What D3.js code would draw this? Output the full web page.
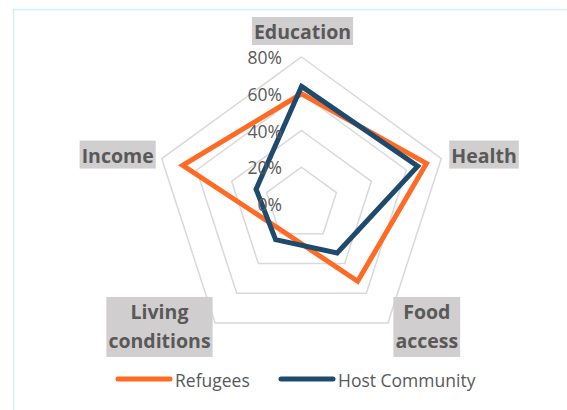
<!DOCTYPE html>
<html><head><meta charset="utf-8">
<script src="https://cdn.jsdelivr.net/npm/d3@7"></script>
<style>html,body{margin:0;padding:0;background:#fff;}svg{display:block;}</style>
</head><body>
<svg id="chart" width="567" height="410"></svg>
<script>
const categories = ["Education", "Health", "Food access", "Living conditions", "Income"];
const refugees = [60, 71.5, 52, 18, 68];
const hostCommunity = [64, 66.5, 33, 24, 26];
const tickValues = [0, 20, 40, 60, 80];
const tickLabels = ["0%", "20%", "40%", "60%", "80%"];
const seriesNames = ["Refugees", "Host Community"];
const seriesColors = ["#FF6A24", "#1E4A6D"];

const svg = d3.select("#chart");
const cx = 301.5, cy = 204;
const r = d3.scaleLinear().domain([0, 80]).range([0, 147]);
const ang = d3.scaleLinear().domain([0, categories.length]).range([0, 2 * Math.PI]);
const pt = (i, v) => [cx + r(v) * Math.sin(ang(i)), cy - r(v) * Math.cos(ang(i))];

// frame
svg.append("rect").attr("x", 13.5).attr("y", 9.5).attr("width", 600).attr("height", 450)
  .attr("fill", "none").attr("stroke", "#d3eff7").attr("stroke-width", 1.5);

// grid rings
const lineClosed = d3.line().curve(d3.curveLinearClosed);
tickValues.filter(t => t > 0).forEach(t => {
  svg.append("path").attr("d", lineClosed(categories.map((c, i) => pt(i, t))))
    .attr("fill", "none").attr("stroke", "#d9d9d9").attr("stroke-width", 1.5);
});

// series
[refugees, hostCommunity].forEach((s, k) => {
  svg.append("path").attr("d", lineClosed(s.map((v, i) => pt(i, v))))
    .attr("fill", "none").attr("stroke", seriesColors[k]).attr("stroke-width", 5)
    .attr("stroke-linejoin", "miter");
});

// tick labels
tickValues.forEach((t, j) => {
  svg.append("text").attr("x", cx - 19.5).attr("y", cy - r(t))
    .attr("text-anchor", "end").attr("dominant-baseline", "central")
    .attr("font-family", "'Open Sans', sans-serif").attr("font-size", 17.5)
    .attr("fill", "#595959").text(tickLabels[j]);
});

// category labels with grey boxes
const fontFam = "'Open Sans', sans-serif";
categories.forEach((c, i) => {
  const [vx, vy] = pt(i, 80);
  const words = c.split(" ");
  const g = svg.append("g");
  const lh = 29;
  const txt = g.append("text").attr("font-family", fontFam).attr("font-weight", "bold")
    .attr("font-size", 19.5).attr("fill", "#595959").attr("text-anchor", "middle");
  words.forEach((w, k) => {
    txt.append("tspan").attr("x", 0).attr("y", k * lh).attr("dominant-baseline", "central").text(w);
  });
  const bb = txt.node().getBBox();
  const bw = bb.width + 4, bh = words.length * lh + (words.length > 1 ? 2 : -1);
  const sx = Math.sin(ang(i)), sy = -Math.cos(ang(i));
  let bx, by;
  if (Math.abs(sx) < 0.1) { bx = vx - bw / 2 + 1; by = vy - 12 - bh; }
  else if (sy < 0) {
    bx = sx > 0 ? vx + 8 : vx - 6 - bw; by = vy - 4 - bh / 2;
  } else {
    bx = sx > 0 ? vx + 5.5 : vx - 2.5 - bw; by = vy - 26;
  }
  g.insert("rect", "text").attr("x", bx).attr("y", by).attr("width", bw).attr("height", bh)
    .attr("fill", "#D0CECE");
  txt.attr("transform", `translate(${bx + bw / 2},${by + 14.5})`);
});

// legend
const legX = [116, 279];
seriesNames.forEach((n, k) => {
  svg.append("line").attr("x1", legX[k] + 2).attr("x2", legX[k] + 54).attr("y1", 379).attr("y2", 379)
    .attr("stroke", seriesColors[k]).attr("stroke-width", 5).attr("stroke-linecap", "round");
  svg.append("text").attr("x", legX[k] + 59).attr("y", 380).attr("dominant-baseline", "central")
    .attr("font-family", fontFam).attr("font-size", 17.5).attr("fill", "#595959").text(n);
});
</script>
</body></html>
